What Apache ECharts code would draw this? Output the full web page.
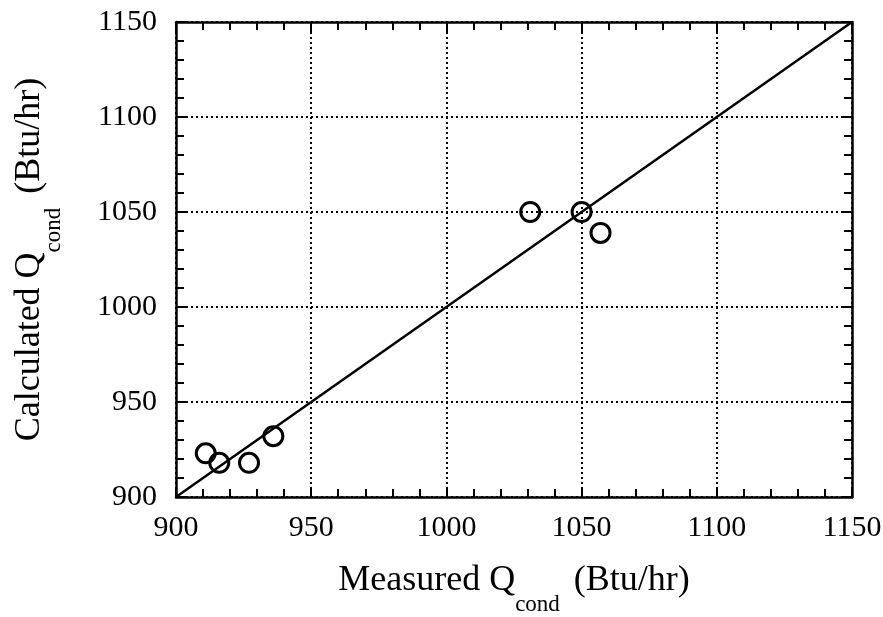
<!DOCTYPE html>
<html lang="en">
<head>
    <meta charset="UTF-8">
    <title>Calculated vs Measured Q_cond</title>
    <style>
        html, body { margin: 0; padding: 0; background: #fff; }
        #main { width: 883px; height: 617px; }
    </style>
</head>
<body>
<div id="main"></div>
<script src="https://cdn.jsdelivr.net/npm/echarts@6/dist/echarts.min.js"></script>
<script>
    // measured vs calculated condenser heat (Btu/hr)
    const measured = [911, 916, 927, 936, 1031, 1050, 1057];
    const calculated = [923, 918, 918, 932, 1050, 1050, 1039];
    const parityLine = [900, 1150];
    const axisMin = 900, axisMax = 1150, axisStep = 50;

    const font = 'Liberation Serif, Times New Roman, serif';
    const nameRich = {
        m: { fontFamily: font, fontSize: 36, color: '#000', lineHeight: 36, verticalAlign: 'top' },
        s: { fontFamily: font, fontSize: 23, color: '#000', lineHeight: 23, verticalAlign: 'top', padding: [30, 14, 0, 0] }
    };

    function baseAxis(extra) {
        return Object.assign({
            type: 'value',
            min: axisMin,
            max: axisMax,
            interval: axisStep,
            axisLine: { show: true, onZero: false, lineStyle: { color: '#000', width: 2.5 } },
            axisTick: { show: true, inside: true, length: 10, lineStyle: { color: '#000', width: 2 } },
            minorTick: { show: true, splitNumber: 5, length: 8, lineStyle: { color: '#000', width: 2 } },
            splitLine: { show: false },
            axisLabel: { show: false }
        }, extra);
    }

    const tickLabel = { show: true, fontFamily: font, fontSize: 30, color: '#000', formatter: v => String(v) };

    const myChart = echarts.init(document.getElementById('main'));
    myChart.setOption({
        animation: false,
        backgroundColor: '#fff',
        grid: { left: 176, right: 31, top: 22, bottom: 120, outerBoundsMode: 'none' },
        xAxis: [
            baseAxis({
                position: 'bottom',
                splitLine: { show: true, lineStyle: { color: '#000', width: 2, type: [2, 3] } },
                axisLabel: Object.assign({ margin: 16 }, tickLabel),
                name: '{m|Measured Q}{s|cond}{m|(Btu/hr)}',
                nameLocation: 'middle',
                nameGap: 66,
                nameTextStyle: { rich: nameRich }
            }),
            baseAxis({ position: 'top' })
        ],
        yAxis: [
            baseAxis({
                position: 'left',
                splitLine: { show: true, lineStyle: { color: '#000', width: 2, type: [2, 3] } },
                axisLabel: Object.assign({ margin: 19 }, tickLabel),
                name: '{m|Calculated Q}{s|cond}{m|(Btu/hr)}',
                nameLocation: 'middle',
                nameRotate: 90,
                nameGap: 128,
                nameTextStyle: { rich: nameRich }
            }),
            baseAxis({ position: 'right' })
        ],
        series: [
            {
                type: 'line',
                data: parityLine.map(v => [v, v]),
                symbol: 'none',
                lineStyle: { color: '#000', width: 2.5 },
                silent: true
            },
            {
                type: 'scatter',
                data: measured.map((m, i) => [m, calculated[i]]),
                symbol: 'circle',
                symbolSize: 19,
                itemStyle: { color: 'rgba(0,0,0,0)', borderColor: '#000', borderWidth: 3, opacity: 1 }
            }
        ]
    });
</script>
</body>
</html>
